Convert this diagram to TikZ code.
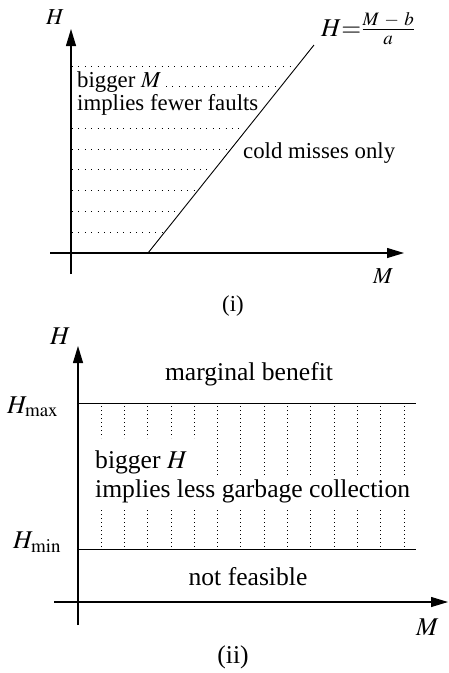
\documentclass[tikz,border=0pt]{standalone}
\usepackage{mathptmx}
\usepackage{fontspec}
\setmainfont{Liberation Serif}
\usetikzlibrary{arrows.meta}
\begin{document}
\begin{tikzpicture}[x=1pt,y=-1pt,
  axis/.style={line width=1.1pt,-{Triangle[length=17pt,width=10pt]}},
  bound/.style={line width=0.9pt},
  hdots/.style={line width=0.8pt,dash pattern=on 0.8pt off 5.6pt},
  vdots/.style={line width=0.7pt,dash pattern=on 0.7pt off 3.3pt},
  fa/.style={inner sep=0pt,font=\fontsize{22.8}{27}\selectfont},
  fb/.style={inner sep=0pt,font=\fontsize{25.6}{30}\selectfont}]
\useasboundingbox (0,0) rectangle (448,673);
% ---------------- panel (i)
\coordinate (iy0) at (71,274);
\coordinate (iy1) at (71,29);
\coordinate (ix0) at (50,253);
\coordinate (ix1) at (404,253);
\coordinate (d0) at (148,253);
\coordinate (d1) at (314,45);
\foreach \k in {0,3,4,5,6,7,8}{
  \pgfmathsetmacro\yy{66+20.75*\k}
  \pgfmathsetmacro\xx{148+(253-\yy)*0.798-3}
  \draw[hdots] (72,\yy) -- (\xx,\yy);
}
\pgfmathsetmacro\xxb{148+(253-86.75)*0.798-3}
\draw[hdots] (166,86.75) -- (\xxb,86.75);
\draw[axis] (iy0) -- (iy1);
\draw[axis] (ix0) -- (ix1);
\draw[bound] (d0) -- (d1);
\node[fa,anchor=base west] (Hi) at (46,24) {$H$};
\node[fa,anchor=base west] (Mi) at (373,283) {$M$};
\node[fa,anchor=base] (capi) at (233,311) {(i)};
\node[fa,anchor=base west] (bm) at (77,87) {bigger $M$};
\node[fa,anchor=base west] (ff) at (77,110) {implies fewer faults};
\node[fa,anchor=base west] (cm) at (243,158) {cold misses only};
\node[fb,anchor=base west] (eq) at (321,36) {$H{=}\frac{M\mkern5mu-\mkern5mu b}{a}$};
% ---------------- panel (ii)
\coordinate (jy0) at (78,625);
\coordinate (jy1) at (78,346);
\coordinate (jx0) at (54,602);
\coordinate (jx1) at (448,602);
\coordinate (hmax0) at (78,403);
\coordinate (hmax1) at (416,403);
\coordinate (hmin0) at (78,549);
\coordinate (hmin1) at (416,549);
\foreach \k in {0,...,13}{
  \pgfmathsetmacro\xv{101+23.3*\k}
  \ifdim\xv pt<200pt
    \draw[vdots] (\xv,406) -- (\xv,438);
  \else
    \draw[vdots] (\xv,406) -- (\xv,475);
  \fi
  \draw[vdots] (\xv,510) -- (\xv,548);
}
\draw[axis] (jy0) -- (jy1);
\draw[axis] (jx0) -- (jx1);
\draw[bound] (hmax0) -- (hmax1);
\draw[bound] (hmin0) -- (hmin1);
\node[fb,anchor=base west] (Hj) at (50,344) {$H$};
\node[fb,anchor=base west] (Mj) at (416,635) {$M$};
\node[fb,anchor=base] (capj) at (233,663) {(ii)};
\node[fb,anchor=base west] (hmaxl) at (7,413) {$H_{\max}$};
\node[fb,anchor=base west] (hminl) at (13,548) {$H_{\min}$};
\node[fb,anchor=base] (mb) at (249,380) {marginal benefit};
\node[fb,anchor=base west] (bh) at (95,468) {bigger $H$};
\node[fb,anchor=base west] (gc) at (95,497) {implies less garbage collection};
\node[fb,anchor=base] (nf) at (248,585) {not feasible};
\end{tikzpicture}
\end{document}
